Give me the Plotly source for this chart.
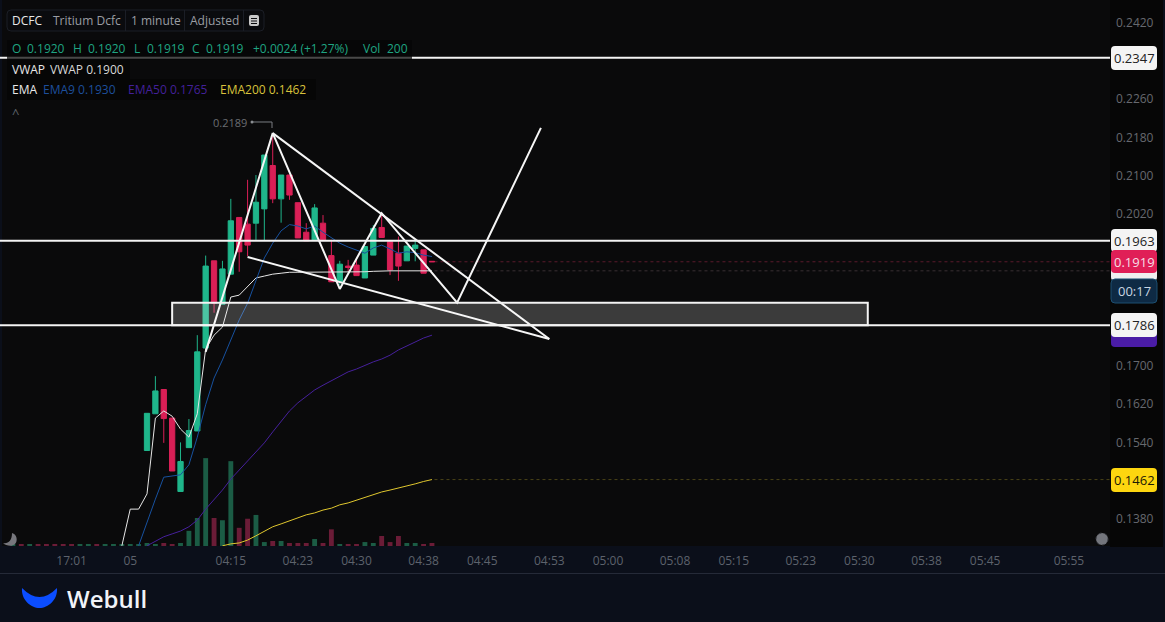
import plotly.graph_objects as go

# ---------- data ----------
minutes = list(range(0, 35))
open_ = [.1523,.1600,.1651,.1591,.1437,.1529,.1564,.1738,.1921,.1830,.1893,.2012,.1998,.2000,.2030,.2121,.2051,.2101,.2043,.1981,.1965,.2000,.1932,.1877,.1910,.1912,.1885,.1933,.1991,.1961,.1937,.1921,.1947,.1944,.1920]
high  = [.1601,.1679,.1651,.1591,.1540,.1589,.1765,.1932,.1921,.1921,.2051,.2012,.2091,.2101,.2143,.2189,.2101,.2101,.2043,.2000,.2040,.2017,.1965,.1921,.1923,.1923,.1951,.1996,.2021,.1961,.1972,.1952,.1965,.1944,.1920]
low   = [.1523,.1600,.1539,.1480,.1437,.1529,.1564,.1738,.1812,.1830,.1893,.1898,.1931,.1965,.1963,.2042,.2001,.2049,.1969,.1963,.1965,.1965,.1877,.1870,.1898,.1890,.1885,.1933,.1970,.1891,.1879,.1921,.1920,.1895,.1919]
close = [.1601,.1648,.1590,.1480,.1500,.1565,.1730,.1910,.1832,.1904,.2005,.1940,.1954,.2044,.2143,.2051,.2101,.2059,.1969,.1963,.2032,.1965,.1877,.1914,.1907,.1890,.1951,.1989,.1970,.1902,.1910,.1952,.1954,.1895,.1919]
volume = [200,130,200,130,200,1000,1850,5800,1850,1700,5600,1200,1800,2050,260,330,330,200,200,200,460,200,1100,130,130,130,260,200,660,260,660,200,200,130,200]

pre_minutes = list(range(-16, 0))
pre_volume = [130] * 16
pre_up = [True, False, True, False, False, False, False, False, True, True, False, True, True, True, True, True]

vwap_x = list(range(-3, 35))
vwap = [.1323,.1400,.1400,.1432,.1591,.1606,.1595,.1568,.1551,.1600,.1736,.1765,.1782,.1845,.1849,.1866,.1885,.1889,.1893,.1895,.1897,.1897,.1897,.1897,.1897,.1898,.1898,.1898,.1898,.1898,.1899,.1900,.1900,.1900,.1900,.1900,.1900,.1900]
ema9_x = list(range(-1, 35))
ema9 = [.1323,.1373,.1421,.1467,.1470,.1472,.1493,.1551,.1619,.1675,.1713,.1755,.1797,.1832,.1881,.1927,.1958,.1984,.1997,.1994,.1988,.1994,.1981,.1969,.1958,.1950,.1944,.1937,.1948,.1954,.1946,.1937,.1940,.1938,.1933,.1930]
ema50_x = list(range(0, 35))
ema50 = [.1323,.1333,.1342,.1348,.1354,.1363,.1377,.1400,.1419,.1440,.1463,.1482,.1501,.1518,.1539,.1562,.1585,.1606,.1623,.1637,.1650,.1660,.1669,.1679,.1688,.1694,.1702,.1709,.1715,.1723,.1734,.1742,.1751,.1759,.1765]
ema200_x = list(range(9, 35))
ema200 = [.1323,.1327,.1329,.1335,.1344,.1354,.1363,.1369,.1375,.1381,.1388,.1392,.1398,.1402,.1409,.1413,.1419,.1425,.1430,.1436,.1440,.1444,.1449,.1453,.1458,.1462]

zigzag_x = [7, 15, 23, 28, 37, 47]
zigzag_y = [.1730, .2189, .1862, .2021, .1833, .2200]
upper_x = [15, 48]
upper_y = [.2189, .1757]
lower_x = [12, 48]
lower_y = [.1929, .1757]
levels = [.2347, .1963, .1786]
zone_x = [3, 86]
zone_y = [.1786, .1833]
dotted = [(.1919, "#5a1a2c"), (.1900, "#3a3034"), (.1462, "#4a4318")]

x_tickvals = [-9, -2, 10, 18, 25, 33, 40, 48, 55, 63, 70, 78, 85, 93, 100, 110]
x_ticktext = ["17:01", "05", "04:15", "04:23", "04:30", "04:38", "04:45", "04:53", "05:00", "05:08", "05:15", "05:23", "05:30", "05:38", "05:45", "05:55"]
y_tickvals = [.2420, .2260, .2180, .2100, .2020, .1700, .1620, .1540, .1380]

# ---------- style ----------
W, H = 1165, 622
GREEN, RED = "#1fb68b", "#d91f56"
VGREEN, VRED = "#1b5c45", "#6b1c37"
FONT = "Open Sans"
BG, NAVY, PANEL = "#0a0a0b", "#0b0f1a", "#060606"

def px(x): return x / W
def py(y): return 1 - y / H

def pth(*cmds):
    out = []
    for c in cmds:
        if isinstance(c, str):
            out.append(c)
        else:
            out.append(f"{px(c[0]):.5f},{py(c[1]):.5f}")
    return " ".join(out)

def round_rect(x0, y0, x1, y1, r=3):
    return pth("M", (x0 + r, y0), "L", (x1 - r, y0), "Q", (x1, y0), (x1, y0 + r), "L", (x1, y1 - r),
               "Q", (x1, y1), (x1 - r, y1), "L", (x0 + r, y1), "Q", (x0, y1), (x0, y1 - r), "L", (x0, y0 + r),
               "Q", (x0, y0), (x0 + r, y0), "Z")

shapes, notes = [], []

def prect(x0, y0, x1, y1, fill, layer="above"):
    shapes.append(dict(type="rect", xref="paper", yref="paper", x0=px(x0), x1=px(x1), y0=py(y0), y1=py(y1),
                       fillcolor=fill, line=dict(width=0), layer=layer))

def ppath(path, fill="rgba(0,0,0,0)", line=None, lw=0, layer="above", dash=None):
    ln = dict(width=lw)
    if line: ln["color"] = line
    if dash: ln["dash"] = dash
    shapes.append(dict(type="path", xref="paper", yref="paper", path=path, fillcolor=fill, line=ln, layer=layer))

def text(x, y, s, color, size=12, anchor="left", weight=None):
    f = dict(family=FONT, size=size, color=color)
    if weight: f["weight"] = weight
    notes.append(dict(x=px(x), y=py(y), xref="paper", yref="paper", text=s, showarrow=False,
                      xanchor=anchor, yanchor="middle", font=f, borderpad=0, borderwidth=0))

# backdrop
prect(1110, 0, 1163, 547, PANEL, "below")
prect(1163, 0, 1165, 547, NAVY, "below")
prect(0, 0, 2, 547, NAVY, "below")
prect(0, 573, W, 574, "#252a38", "below")

# drawn levels and zone
for lv in levels:
    shapes.append(dict(type="line", xref="paper", yref="y2", x0=0, x1=px(1110), y0=lv, y1=lv,
                       line=dict(color="#f4f4f4", width=2), layer="above"))
shapes.append(dict(type="rect", xref="x", yref="y2", x0=zone_x[0], x1=zone_x[1], y0=zone_y[0], y1=zone_y[1],
                   fillcolor="rgba(255,255,255,0.2)", line=dict(color="#f4f4f4", width=2), layer="above"))
for lv, col in dotted:
    shapes.append(dict(type="line", xref="x", yref="y2", x0=34.3, x1=114.9, y0=lv, y1=lv,
                       line=dict(color=col, width=1, dash="dot"), layer="below"))

# legend boxes
ppath(round_rect(7, 10, 264, 31, 4), "#0a0b0e", "#1b1e26", 1)
for dx in (125, 184, 243):
    prect(dx, 10, dx + 1, 31, "#1b1e26")
prect(7, 40, 412, 60, "rgba(6,6,6,0.72)")
prect(7, 60, 130, 79, "#060606")
prect(7, 79, 316, 100, "#060606")
ppath(round_rect(249, 15, 259, 26, 2), "#c8c8c8")
for yy in (18, 20.5, 23):
    prect(251, yy, 257, yy + 1, "#0a0b0e")

text(12, 21, "DCFC", "#e8e8e8")
text(53, 21, "Tritium Dcfc", "#9a9da3")
text(131, 21, "1 minute", "#9a9da3")
text(190, 21, "Adjusted", "#9a9da3")
for xx, s in [(12, "O"), (27, "0.1920"), (73, "H"), (88, "0.1920"), (134, "L"), (147, "0.1919"), (192, "C"),
              (206, "0.1919"), (253, "+0.0024 (+1.27%)"), (363, "Vol"), (387, "200")]:
    text(xx, 49, s, "#1fa582")
text(12, 70, "VWAP", "#e8e8e8")
text(50, 70, "VWAP 0.1900", "#d8d8d8")
text(12, 89.5, "EMA", "#e8e8e8")
text(43, 89.5, "EMA9 0.1930", "#1d4f9c")
text(128, 89.5, "EMA50 0.1765", "#43209a")
text(220, 89.5, "EMA200 0.1462", "#d8c23b")
text(15, 113, "^", "#5f636a", 13, "center")

# high marker
text(213, 122, "0.2189", "#6a6d72", 11)
ppath(pth("M", (252, 122), "L", (272, 122), "L", (272, 128)), line="#7a7d82", lw=1)
shapes.append(dict(type="circle", xref="paper", yref="paper", x0=px(250.5), x1=px(253.5), y0=py(123.5), y1=py(120.5),
                   fillcolor="#8a8d92", line=dict(width=0), layer="above"))

# price tags
def tag(y0, y1, fill, label=None, color="#222", line=None):
    ppath(round_rect(1111, y0, 1157, y1, 4), fill, line, 1 if line else 0)
    if label:
        text(1134, (y0 + y1) / 2, label, color, 13, "center")

tag(46, 70, "#f4f4f4", "0.2347")
tag(468, 492, "#fdd60f", "0.1462", "#1c1a05")
tag(229, 252, "#f4f4f4", "0.1963")
tag(262, 281, "#f0f0f0")
tag(250, 273, "#e01f57", "0.1919", "#f5dfe6")
tag(279, 303, "#0e2a44", "00:17", "#c8d6e2", "#1d4f70")
tag(325, 347, "#4a1ca6")
tag(313, 337, "#f4f4f4", "0.1786")

# moon and round button
ppath(pth("M", (12, 533), "C", (17, 534), (18, 541), (15, 544), "C", (12, 547), (6, 546), (3, 543),
          "C", (8, 544), (12, 541), (12, 533), "Z"), "#77777d")
shapes.append(dict(type="circle", xref="paper", yref="paper", x0=px(1096), x1=px(1108), y0=py(545), y1=py(533),
                   fillcolor="#74767d", line=dict(color="#3c3e44", width=1, dash="dot"), layer="above"))

# footer logo
ppath(pth("M", (22, 588), "Q", (39.5, 606), (57, 588), "C", (58, 600), (48, 608), (39.5, 608),
          "C", (31, 608), (21, 600), (22, 588), "Z"), "#0b4dff")
text(67, 598, "Webull", "#f1f3f8", 24, weight=600)

# ---------- figure ----------
fig = go.Figure()
pre_colors = [VGREEN if u else VRED for u in pre_up]
day_colors = [VGREEN if c >= o else VRED for o, c in zip(open_, close)]
fig.add_bar(x=pre_minutes + minutes, y=pre_volume + volume, marker=dict(color=pre_colors + day_colors, line=dict(width=0)),
            width=0.58, yaxis="y", showlegend=False)
fig.add_candlestick(x=minutes, open=open_, high=high, low=low, close=close, yaxis="y2", showlegend=False,
                    whiskerwidth=0,
                    increasing=dict(fillcolor=GREEN, line=dict(color=GREEN, width=1)),
                    decreasing=dict(fillcolor=RED, line=dict(color=RED, width=1)))
for xs, ys, col, w in [(vwap_x, vwap, "#e6e6e6", 1), (ema9_x, ema9, "#17519f", 1),
                       (ema50_x, ema50, "#46209c", 1), (ema200_x, ema200, "#e0c72e", 1)]:
    fig.add_scatter(x=xs, y=ys, mode="lines", line=dict(color=col, width=w), yaxis="y2", showlegend=False)
for xs, ys in [(zigzag_x, zigzag_y), (upper_x, upper_y), (lower_x, lower_y)]:
    fig.add_scatter(x=xs, y=ys, mode="lines", line=dict(color="#f6f6f6", width=2), yaxis="y2", showlegend=False)

fig.update_layout(
    width=W, height=H, autosize=False, margin=dict(l=0, r=0, t=0, b=0),
    paper_bgcolor=NAVY, plot_bgcolor=BG, showlegend=False, boxgap=0.1, bargap=0.4,
    shapes=shapes, annotations=notes,
    xaxis=dict(domain=[0, 1110 / W], range=[-17.54, 114.9], tickmode="array", tickvals=x_tickvals, ticktext=x_ticktext,
               showgrid=False, zeroline=False, showline=False, ticks="", ticklen=0, rangeslider=dict(visible=False),
               ticklabelstandoff=6,
               tickfont=dict(family=FONT, size=12, color="#5d626c"), automargin=False, anchor="y"),
    yaxis=dict(domain=[76 / H, 1], range=[0, 36036], visible=False, fixedrange=True),
    yaxis2=dict(overlaying="y", side="right", anchor="x", range=[.13226, .24683], tickmode="array", tickvals=y_tickvals,
                tickformat=".4f", showgrid=False, zeroline=False, showline=False, ticks="", ticklabelstandoff=5,
                tickfont=dict(family=FONT, size=12, color="#66696f"), automargin=False),
)
fig.write_html("out.html", config=dict(displayModeBar=False),
               post_script="document.body.style.margin='0';document.body.style.overflow='hidden';document.body.style.background='#0b0f1a';")
